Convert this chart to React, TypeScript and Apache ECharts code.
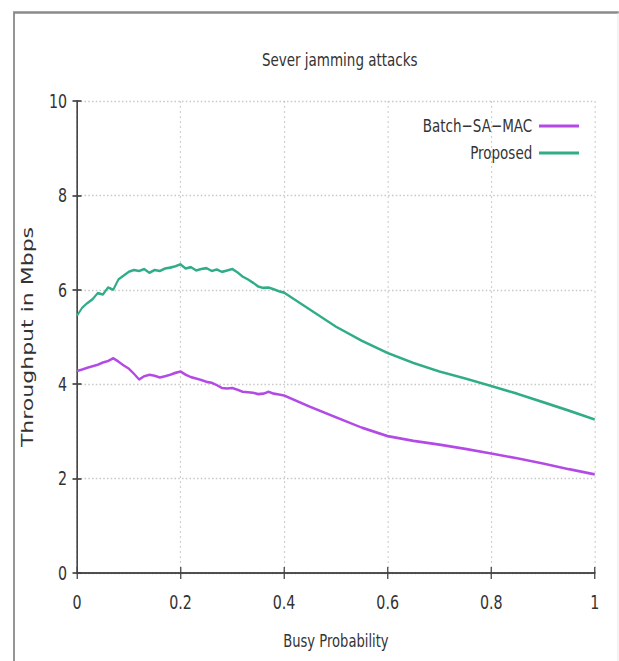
import React, { useEffect, useRef } from "react";
import * as echarts from "echarts";

// Busy probability sample points (fine steps where the curves fluctuate)
const busyProbability = [
  0, 0.01, 0.02, 0.03, 0.04, 0.05, 0.06, 0.07, 0.08, 0.09,
  0.1, 0.11, 0.12, 0.13, 0.14, 0.15, 0.16, 0.17, 0.18, 0.19,
  0.2, 0.21, 0.22, 0.23, 0.24, 0.25, 0.26, 0.27, 0.28, 0.29,
  0.3, 0.31, 0.32, 0.33, 0.34, 0.35, 0.36, 0.37, 0.38, 0.39,
  0.4, 0.45, 0.5, 0.55, 0.6, 0.65, 0.7, 0.75, 0.8, 0.85, 0.9, 0.95, 1.0,
];

// Throughput (Mbps) of Batch-SA-MAC
const batchSaMac = [
  4.28, 4.31, 4.35, 4.38, 4.41, 4.46, 4.49, 4.55, 4.48, 4.4,
  4.33, 4.22, 4.1, 4.17, 4.2, 4.18, 4.14, 4.17, 4.2, 4.24,
  4.27, 4.2, 4.15, 4.12, 4.09, 4.05, 4.03, 3.98, 3.92, 3.91,
  3.92, 3.88, 3.84, 3.83, 3.82, 3.79, 3.8, 3.84, 3.8, 3.78,
  3.76, 3.52, 3.3, 3.08, 2.9, 2.8, 2.72, 2.63, 2.53, 2.43, 2.32, 2.2, 2.09,
];

// Throughput (Mbps) of the proposed scheme
const proposed = [
  5.45, 5.62, 5.72, 5.8, 5.93, 5.9, 6.05, 6.0, 6.22, 6.3,
  6.38, 6.42, 6.4, 6.44, 6.36, 6.42, 6.4, 6.45, 6.47, 6.5,
  6.54, 6.45, 6.48, 6.41, 6.44, 6.46, 6.4, 6.43, 6.38, 6.41,
  6.44, 6.37, 6.28, 6.22, 6.15, 6.07, 6.04, 6.05, 6.01, 5.97,
  5.94, 5.58, 5.22, 4.92, 4.66, 4.45, 4.27, 4.12, 3.96, 3.8, 3.62, 3.44, 3.25,
];

const seriesNames = ["Batch\u2212SA\u2212MAC", "Proposed"];
const seriesColors = ["#b44ae6", "#30ad88"];

// The chart is laid out on a wider canvas and squeezed horizontally,
// which gives the narrow lettering of the printed figure.
const SQUEEZE = 0.75;
const WIDTH = 619;
const HEIGHT = 661;
const CANVAS_W = WIDTH / SQUEEZE;
const sx = (v: number) => v / SQUEEZE;

const FONT = "'DejaVu Sans', sans-serif";
const TEXT = "#333";

export default function App() {
  const ref = useRef<HTMLDivElement>(null);

  useEffect(() => {
    if (!ref.current) return;
    const chart = echarts.init(ref.current, null, { renderer: "svg" });

    const pairs = (ys: number[]) => busyProbability.map((x, i) => [x, ys[i]]);

    const tickCommon = {
      show: true,
      inside: true,
      length: 6,
      lineStyle: { color: "#444", width: 1.7 },
    };
    const lineCommon = { show: true, lineStyle: { color: "#444", width: 1.7 } };
    const gridLine = { show: true, lineStyle: { color: "#c8c8c8", type: [2, 3], width: 1.3 } };

    chart.setOption({
      animation: false,
      backgroundColor: "#fff",
      title: {
        text: "Sever jamming attacks",
        left: sx(336),
        top: 46,
        textAlign: "center",
        textStyle: { fontFamily: FONT, fontSize: 18, fontWeight: "normal", color: TEXT },
      },
      legend: {
        orient: "vertical",
        right: sx(36),
        top: 112,
        align: "right",
        itemWidth: sx(40),
        itemHeight: 3,
        itemGap: 9,
        icon: "rect",
        data: seriesNames,
        textStyle: { fontFamily: FONT, fontSize: 18, color: TEXT, padding: [0, 4, 0, 0] },
      },
      grid: { left: sx(77), right: sx(24), top: 101, bottom: 88 },
      xAxis: [
        {
          type: "value",
          min: 0,
          max: 1,
          interval: 0.2,
          name: "Busy Probability",
          nameLocation: "middle",
          nameGap: 59,
          nameTextStyle: { fontFamily: FONT, fontSize: 17.5, color: TEXT },
          axisLine: lineCommon,
          axisTick: tickCommon,
          splitLine: gridLine,
          axisLabel: { fontFamily: FONT, fontSize: 19, color: TEXT, margin: 20 },
        },
        {
          type: "value",
          position: "top",
          min: 0,
          max: 1,
          interval: 0.2,
          axisLine: lineCommon,
          axisTick: tickCommon,
          splitLine: { show: false },
          axisLabel: { show: false },
        },
      ],
      yAxis: [
        {
          type: "value",
          min: 0,
          max: 10,
          interval: 2,
          name: "Throughput in Mbps",
          nameLocation: "middle",
          nameRotate: 90,
          nameGap: sx(41),
          nameTextStyle: { fontFamily: FONT, fontSize: 22, color: TEXT },
          axisLine: lineCommon,
          axisTick: tickCommon,
          splitLine: gridLine,
          axisLabel: { fontFamily: FONT, fontSize: 19, color: TEXT, margin: sx(10) },
        },
        {
          type: "value",
          position: "right",
          min: 0,
          max: 10,
          interval: 2,
          axisLine: lineCommon,
          axisTick: tickCommon,
          splitLine: { show: false },
          axisLabel: { show: false },
        },
      ],
      graphic: [
        {
          type: "polyline",
          shape: { points: [[sx(14), HEIGHT], [sx(14), 12.5], [CANVAS_W, 12.5]] },
          style: { stroke: "#8a8a8a", lineWidth: 2.4, fill: "none" },
          silent: true,
        },
        {
          type: "line",
          shape: { x1: sx(618), y1: 13, x2: sx(618), y2: HEIGHT },
          style: { stroke: "#e2e2e2", lineWidth: 1.3 },
          silent: true,
        },
      ],
      series: [
        {
          name: seriesNames[0],
          type: "line",
          data: pairs(batchSaMac),
          showSymbol: false,
          color: seriesColors[0],
          lineStyle: { width: 2.6, color: seriesColors[0] },
          z: 3,
        },
        {
          name: seriesNames[1],
          type: "line",
          data: pairs(proposed),
          showSymbol: false,
          color: seriesColors[1],
          lineStyle: { width: 2.6, color: seriesColors[1] },
          z: 3,
        },
      ],
    });

    return () => chart.dispose();
  }, []);

  return (
    <div
      ref={ref}
      style={{
        position: "fixed",
        left: 0,
        top: 0,
        width: CANVAS_W,
        height: HEIGHT,
        background: "#fff",
        transform: `scaleX(${SQUEEZE})`,
        transformOrigin: "0 0",
      }}
    />
  );
}
